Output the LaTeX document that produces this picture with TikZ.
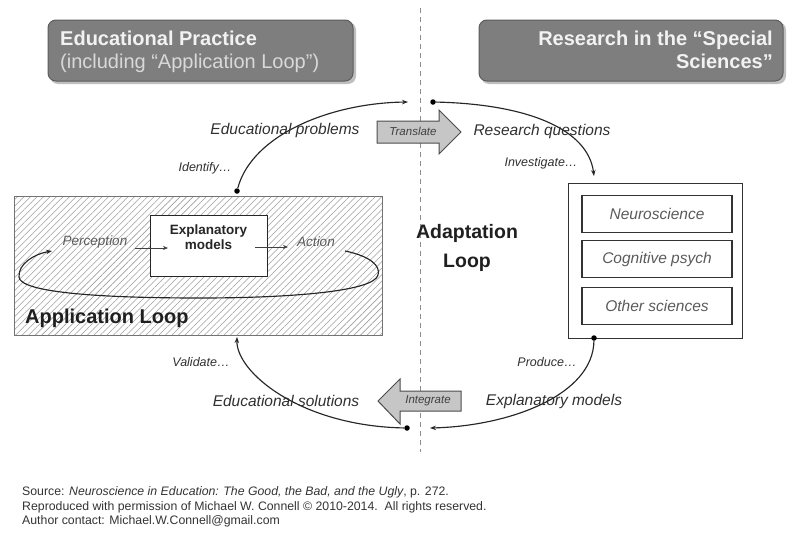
\documentclass[tikz,border=0pt]{standalone}
\usepackage{fontspec}
\setmainfont{Liberation Sans}
\usetikzlibrary{arrows.meta,patterns.meta}
\definecolor{hdr}{HTML}{7E7E7E}
\definecolor{hdrline}{HTML}{5C5C5C}
\definecolor{lbl}{HTML}{303030}
\definecolor{soft}{HTML}{5A5A5A}
\definecolor{arrowfill}{HTML}{C6C6C6}
\begin{document}
\begin{tikzpicture}[x=1pt,y=-1pt,
  header/.style={draw=hdrline, fill=hdr, line width=1pt, rounded corners=8pt},
  hshadow/.style={fill=black!25, rounded corners=8pt},
  lab/.style={font=\fontsize{15.5}{18}\selectfont\itshape, text=lbl, inner sep=0},
  verb/.style={font=\fontsize{12.5}{15}\selectfont\itshape, text=lbl, inner sep=0},
  sci/.style={draw=black!80, line width=1.3pt, minimum width=150pt, minimum height=37pt, inner sep=0,
    font=\fontsize{15.5}{18}\selectfont\itshape, text=soft},
  conn/.style={draw=black!85, line width=1.15pt, -{Stealth[length=6pt,width=4.5pt]}},
  thinconn/.style={draw=black!75, line width=0.8pt, -{Stealth[length=5pt,width=4pt]}},
  dotnode/.style={circle, fill=black, inner sep=0, minimum size=5.5pt},
  blockarrow/.style={draw=black!70, fill=arrowfill, line width=1pt, line join=miter},
  foot/.style={font=\fontsize{12.3}{14}\selectfont, text=black!80, inner sep=0, anchor=west}]
\useasboundingbox (0,0) rectangle (787,533);

% dashed separator
\coordinate (sepTop) at (420,8);
\coordinate (sepBot) at (420,452);
\draw[black!45, line width=1pt, dash pattern=on 5pt off 4pt] (sepTop) -- (sepBot);

% headers
\fill[hshadow] (50,22) rectangle (356,84);
\draw[header] (48,20) rectangle (353,81);
\node[anchor=north west, inner sep=0, align=left, font=\fontsize{20}{23}\selectfont] (hleft) at (60,31)
  {\textcolor{white!95!black}{\textbf{Educational Practice}}\\\textcolor{white!85!black}{(including “Application Loop”)}};
\fill[hshadow] (481,22) rectangle (786,84);
\draw[header] (479,20) rectangle (783,81);
\node[anchor=north east, inner sep=0, align=right, font=\fontsize{20}{23}\selectfont\bfseries, text=white!95!black] (hright) at (773,31)
  {Research in the “Special\\Sciences”};

% application loop box
\node[draw=black!55, line width=1pt, pattern={Lines[angle=45,distance=4.6pt,line width=0.55pt]}, pattern color=black!38,
  minimum width=368pt, minimum height=139pt, anchor=north west, inner sep=0] (app) at (14,196) {};
\node[anchor=west, inner sep=0, font=\fontsize{20}{24}\selectfont\bfseries, text=black!88] (applbl) at (25,318) {Application Loop};
\node[draw=black!85, fill=white, line width=1.3pt, minimum width=117pt, minimum height=61pt, anchor=north west, inner sep=0] (expbox) at (150,215) {};
\node[align=center, inner sep=0, font=\fontsize{13.5}{15}\selectfont\bfseries, text=black!85] (exptext) at (208.5,237) {Explanatory\\models};
\node[inner sep=0, font=\fontsize{13.5}{16}\selectfont\itshape, text=soft] (perc) at (95,242) {Perception};
\node[inner sep=0, font=\fontsize{13.5}{16}\selectfont\itshape, text=soft] (act) at (316,242) {Action};
\coordinate (pa1) at (135,248); \coordinate (pa2) at (168,248);
\coordinate (aa1) at (255,247); \coordinate (aa2) at (288,247);
\draw[thinconn] (pa1) -- (pa2);
\draw[thinconn] (aa1) -- (aa2);
% big loop
\coordinate (lpS) at (345,251);
\coordinate (lpR) at (378,275);
\coordinate (lpB) at (200,298);
\coordinate (lpL) at (19,277);
\coordinate (lpE) at (52,251);
\draw[conn] (lpS) .. controls (370,256) and (381,266) .. (lpR)
  .. controls (374,292) and (285,298) .. (lpB)
  .. controls (95,298) and (20,292) .. (lpL)
  .. controls (18,264) and (34,254) .. (lpE);

% adaptation loop
\node[align=center, inner sep=0, font=\fontsize{19.5}{29}\selectfont\bfseries, text=black!88] (adapt) at (467,248) {Adaptation\\Loop};

% sciences box
\node[draw=black!80, line width=1.3pt, minimum width=174pt, minimum height=155pt, anchor=north west, inner sep=0] (sciout) at (568,183) {};
\node[sci] (neuro) at (657,214) {Neuroscience};
\node[sci] (cogn) at (657,259) {Cognitive psych};
\node[sci] (other) at (657,306) {Other sciences};

% cycle connectors
\node[dotnode] (d1) at (237,191) {};
\coordinate (t1) at (408,102);
\node[dotnode] (d2) at (433,102) {};
\coordinate (t2) at (594,176);
\node[dotnode] (d3) at (594,338) {};
\coordinate (t3) at (430,428);
\node[dotnode] (d4) at (407,428) {};
\coordinate (t4) at (237,337);
\draw[conn] (d1) .. controls (252,135) and (330,103) .. (t1);
\draw[conn] (d2) .. controls (525,104) and (588,128) .. (t2);
\draw[conn] (d3) .. controls (593,395) and (510,426) .. (t3);
\draw[conn] (d4) .. controls (300,426) and (236,372) .. (t4);

% block arrows
\draw[blockarrow] (377,121) -- (439,121) -- (439,110) -- (461,132) -- (439,154) -- (439,143) -- (377,143) -- cycle;
\node[inner sep=0, font=\fontsize{11.5}{13}\selectfont\itshape, text=black!75] (transl) at (413,131) {Translate};
\draw[blockarrow] (461,391) -- (400,391) -- (400,379) -- (378,401) -- (400,424) -- (400,411) -- (461,411) -- cycle;
\node[inner sep=0, font=\fontsize{11.5}{13}\selectfont\itshape, text=black!75] (integ) at (428,401) {Integrate};

% labels
\node[lab] (edprob) at (285,130) {Educational problems};
\node[verb] (ident) at (205,168) {Identify…};
\node[lab] (resq) at (542,131) {Research questions};
\node[verb] (invest) at (541,163) {Investigate…};
\node[verb] (valid) at (201,362) {Validate…};
\node[lab] (edsol) at (286,401) {Educational solutions};
\node[verb] (prod) at (547,362) {Produce…};
\node[lab] (expm) at (554,401) {Explanatory models};

% footer
\node[foot] (f1) at (22,492) {Source: \textit{Neuroscience in Education: The Good, the Bad, and the Ugly}, p. 272.};
\node[foot] (f2) at (22,507) {Reproduced with permission of Michael W. Connell © 2010-2014.\ \ All rights reserved.};
\node[foot] (f3) at (22,521) {Author contact: Michael.W.Connell@gmail.com};
\end{tikzpicture}
\end{document}
